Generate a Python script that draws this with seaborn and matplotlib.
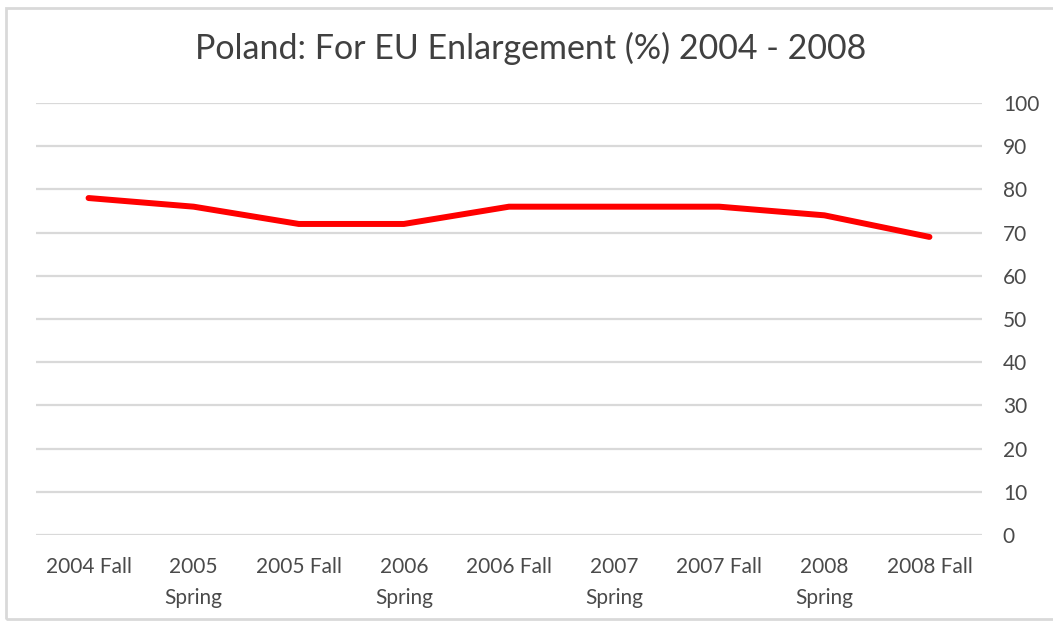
import numpy as np
import pandas as pd
import matplotlib
matplotlib.use("Agg")
import matplotlib.pyplot as plt
from matplotlib.patches import Rectangle
import seaborn as sns

# Survey waves and share in favour of EU enlargement (%)
waves = ["2004 Fall", "2005\nSpring", "2005 Fall", "2006\nSpring", "2006 Fall",
         "2007\nSpring", "2007 Fall", "2008\nSpring", "2008 Fall"]
support = [78, 76, 72, 72, 76, 76, 76, 74, 69]
y_ticks = list(range(0, 101, 10))

title = "Poland: For EU Enlargement (%) 2004 - 2008"

sns.set_theme(style="white")
plt.rcParams["font.family"] = ["Lato", "DejaVu Sans"]

W, H = 1053, 621
fig = plt.figure(figsize=(W / 100, H / 100), dpi=100)
fig.patch.set_facecolor("white")

# axes placed in pixel terms of the canvas
left, right, top, bottom = 36, 982, 103, 535
ax = fig.add_axes([left / W, 1 - bottom / H, (right - left) / W, (bottom - top) / H])

df = pd.DataFrame({"pos": np.arange(len(waves)), "support": support})
sns.lineplot(data=df, x="pos", y="support", ax=ax, color="#ff0000",
             linewidth=4.3, solid_joinstyle="round", solid_capstyle="round",
             zorder=3)

ax.set_xlim(-0.5, len(waves) - 0.5)
ax.set_ylim(0, 100)
ax.set_yticks(y_ticks)
ax.set_yticklabels([str(v) for v in y_ticks])
ax.yaxis.tick_right()
ax.set_xticks(np.arange(len(waves)))
ax.set_xticklabels(waves, linespacing=1.68)
ax.set_xlabel("")
ax.set_ylabel("")

for v in y_ticks:
    ax.axhline(v, color="#d9d9d9", linewidth=1.6, zorder=1)
ax.grid(False)
for s in ax.spines.values():
    s.set_visible(False)

ax.tick_params(axis="y", length=0, pad=15, labelsize=15, labelcolor="#4a4a4a")
ax.tick_params(axis="x", length=0, pad=16, labelsize=15, labelcolor="#4a4a4a")
for lab in ax.get_yticklabels():
    lab.set_horizontalalignment("left")

fig.text(531 / W, 1 - 48 / H, title, ha="center", va="center",
         fontsize=24.5, color="#404040")

# light chart frame
fig.patches.append(Rectangle((6 / W, 1 - 619 / H), 1.2, (619 - 8) / H,
                             transform=fig.transFigure, fill=False,
                             edgecolor="#d9d9d9", linewidth=2, zorder=0))

fig.savefig("out.png", dpi=100, facecolor="white")
